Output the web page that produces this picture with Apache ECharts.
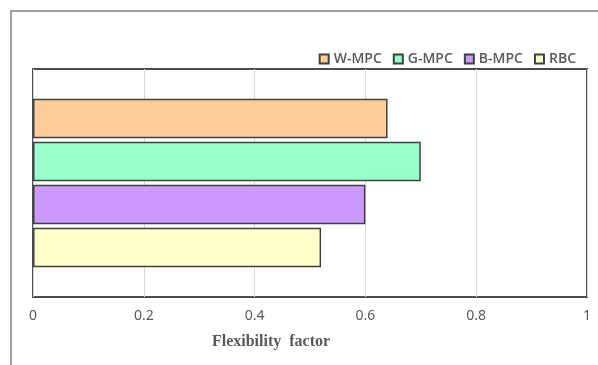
<!DOCTYPE html>
<html>
<head>
<meta charset="utf-8">
<script src="https://cdn.jsdelivr.net/npm/echarts@6/dist/echarts.min.js"></script>
<style>html,body{margin:0;padding:0;background:#fff}#c{width:598px;height:365px}</style>
</head>
<body>
<div id="c"></div>
<script>
const categories = [''];
const seriesNames = ['W-MPC', 'G-MPC', 'B-MPC', 'RBC'];
const values = [0.64, 0.70, 0.60, 0.52];
const xTicks = [0, 0.2, 0.4, 0.6, 0.8, 1];
const xTitle = 'Flexibility  factor';
const colors = ['#FFCC99', '#99FFCC', '#CC99FF', '#FFFFCC'];

const chart = echarts.init(document.getElementById('c'), null, {renderer: 'canvas'});
chart.setOption({
  animation: false,
  backgroundColor: '#ffffff',
  legend: {
    data: seriesNames,
    right: 17,
    top: 47,
    itemWidth: 9,
    itemHeight: 9,
    itemGap: 11,
    icon: 'rect',
    textStyle: {fontFamily: 'Open Sans', fontWeight: 600, fontSize: 14, color: '#595959'}
  },
  grid: {
    left: 33, right: 11, top: 69, bottom: 68,
    show: true, borderColor: '#4d4d4d', borderWidth: 2, containLabel: false
  },
  xAxis: {
    type: 'value',
    min: xTicks[0], max: xTicks[xTicks.length - 1], interval: 0.2,
    axisLine: {show: false},
    axisTick: {show: false},
    splitLine: {show: true, lineStyle: {color: '#d9d9d9', width: 1}},
    axisLabel: {margin: 12, fontFamily: 'Noto Sans', fontSize: 14, color: '#595959'}
  },
  yAxis: {
    type: 'category',
    data: categories,
    inverse: true,
    axisLine: {show: false},
    axisTick: {show: false},
    axisLabel: {show: false}
  },
  graphic: [
    {type: 'polyline', shape: {points: [[11, 400], [11, 11], [620, 11]]},
     style: {stroke: '#7f7f7f', lineWidth: 1.5, fill: null}, silent: true},
    {type: 'text', x: 271, y: 342,
     style: {text: xTitle, font: 'bold 16px "Liberation Serif"', fill: '#595959', textAlign: 'center', textVerticalAlign: 'middle'}}
  ],
  series: seriesNames.map((n, i) => ({
    name: n,
    type: 'bar',
    data: [values[i]],
    barCategoryGap: '26%',
    barGap: '9%',
    itemStyle: {color: colors[i], borderColor: '#404040', borderWidth: 1.5}
  }))
});
</script>
</body>
</html>
